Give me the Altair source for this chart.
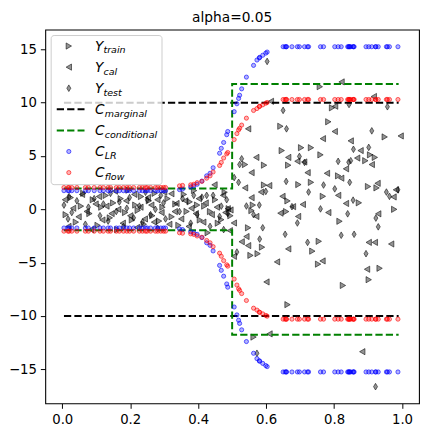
import altair as alt
import pandas as pd

TITLE = "alpha=0.05"

# ---------------- data ----------------
train_x = [
    0.010, 0.025, 0.040, 0.055, 0.062, 0.080, 0.090, 0.104, 0.115, 0.128,
    0.140, 0.150, 0.162, 0.172, 0.185, 0.195, 0.205, 0.215, 0.222, 0.232,
    0.240, 0.255, 0.265, 0.272, 0.285, 0.295, 0.310, 0.322, 0.333, 0.342,
    0.358, 0.366, 0.375, 0.388, 0.397, 0.405, 0.418, 0.428, 0.435, 0.450,
    0.458, 0.468, 0.478, 0.490, 0.495,
    0.538, 0.547, 0.554, 0.557, 0.561, 0.563, 0.575, 0.588, 0.594, 0.594,
    0.642, 0.646, 0.659, 0.663, 0.663, 0.665, 0.695, 0.703, 0.732, 0.732,
    0.736, 0.753, 0.755, 0.758, 0.760, 0.767, 0.783, 0.794, 0.812, 0.816,
    0.826, 0.873, 0.892, 0.900, 0.902, 0.906, 0.920, 0.925, 0.934, 0.949,
    0.977,
]
train_y = [
    -0.50, 1.10, -1.20, 0.30, 1.50, -0.40, 0.90, -1.50, 0.20, 1.30,
    -0.80, 0.60, -1.90, 1.00, -0.30, 1.80, -1.00, 0.40, -0.10, 1.20,
    -1.40, 0.80, -0.60, 1.50, -1.10, 0.20, 1.00, -0.70, 0.50, -1.50,
    1.40, -0.20, 0.70, 1.76, 0.40, -1.00, 0.30, -2.20, -0.21, 0.90,
    -1.30, -0.97, 1.60, 0.06, -0.60,
    4.20, -1.73, -4.32, -0.12, 0.40, -11.98, -4.16, -3.55, 4.14, 2.28,
    7.79, 5.51, -0.21, 0.79, -8.94, 4.14, 2.32, 5.78, 5.78, 2.53,
    -3.92, -5.14, -3.00, 11.50, 5.11, 1.22, 8.21, 9.52, 3.14, -1.12,
    -7.14, 0.61, 4.56, 2.14, -6.60, 5.11, 4.87, 2.01, -5.53, 6.79,
    0.00,
]

cal_x = [
    0.008, 0.018, 0.032, 0.048, 0.058, 0.072, 0.085, 0.098, 0.108, 0.118,
    0.130, 0.145, 0.155, 0.165, 0.178, 0.188, 0.200, 0.212, 0.220, 0.230,
    0.243, 0.252, 0.262, 0.270, 0.280, 0.292, 0.300, 0.315, 0.321, 0.331,
    0.336, 0.350, 0.362, 0.372, 0.380, 0.393, 0.402, 0.415, 0.422, 0.440,
    0.448, 0.455, 0.473, 0.480, 0.487, 0.493,
    0.495, 0.505, 0.505, 0.528, 0.538, 0.542, 0.547, 0.547, 0.557, 0.557,
    0.571, 0.571, 0.585, 0.601, 0.609, 0.610, 0.614, 0.632, 0.642, 0.648,
    0.665, 0.665, 0.679, 0.692, 0.694, 0.708, 0.712, 0.722, 0.766, 0.767,
    0.779, 0.783, 0.802, 0.803, 0.812, 0.821, 0.822, 0.835, 0.835, 0.849,
    0.868, 0.878, 0.883, 0.897, 0.902, 0.911, 0.917, 0.920, 0.928, 0.930,
    0.968, 0.975, 0.982, 0.996,
]
cal_y = [
    0.90, -1.60, 0.10, -0.70, 1.40, -0.20, -1.90, 0.50, 1.20, -1.00,
    0.30, -0.40, 1.70, 0.00, -1.30, 0.80, -0.60, 1.40, -1.70, 0.20,
    -0.90, 1.10, 0.40, -1.20, 0.90, -0.30, 1.60, -1.40, 1.46, -0.21,
    0.55, -0.90, 0.80, -1.60, 0.10, -0.40, 1.00, -1.20, 0.60, -0.50,
    2.30, 0.20, 1.31, -0.30, 0.06, -2.00,
    -0.06, -1.28, -4.41, -3.04, 2.01, -2.55, 7.55, -3.40, 3.44, 1.09,
    4.87, -0.67, 1.62, -6.81, 2.23, -11.68, 10.13, -4.93, -0.36, 1.22,
    4.87, -3.71, 0.25, 4.51, -0.67, 0.46, 4.44, 3.44, -4.84, 6.63,
    3.38, -0.30, 7.30, 9.67, 1.31, 2.92, 11.95, 3.80, 0.55, 6.42,
    4.81, 5.51, -13.35, -5.62, -3.10, 4.20, 10.58, -3.10, 2.44, -0.42,
    -3.25, 1.16, 1.83, 6.88,
]

test_x = [
    0.005, 0.017, 0.020, 0.028, 0.043, 0.068, 0.077, 0.094, 0.111, 0.121,
    0.135, 0.142, 0.159, 0.168, 0.180, 0.190, 0.198, 0.210, 0.227, 0.236,
    0.245, 0.250, 0.260, 0.274, 0.281, 0.290, 0.298, 0.304, 0.345, 0.354,
    0.378, 0.387, 0.397, 0.411, 0.425, 0.435, 0.444, 0.463, 0.468, 0.475,
    0.484, 0.487,
    0.506, 0.514, 0.519, 0.522, 0.528, 0.542, 0.563, 0.573,
    0.580, 0.581, 0.590, 0.599, 0.603, 0.650, 0.656, 0.659, 0.660, 0.676,
    0.692, 0.698, 0.713, 0.722, 0.725, 0.760, 0.769, 0.802, 0.812, 0.821,
    0.840, 0.843, 0.844, 0.846, 0.849, 0.856, 0.857, 0.859, 0.894, 0.902,
    0.911, 0.922, 0.923, 0.930, 0.954, 0.957, 0.963, 0.988,
]
test_y = [
    0.40, -0.90, 1.20, -0.30, 0.80, -1.40, 0.20, 1.00, -0.60, 0.50,
    -1.10, 1.50, -0.20, 0.70, -1.60, 0.10, 1.10, -0.80, 0.30, -1.20,
    1.60, 0.90, -0.50, 0.00, -1.80, 1.30, 0.60, -0.90, -0.21, 1.00,
    -1.30, 1.31, -0.50, 1.14, 1.31, -1.60, 1.31, -0.67, 0.30, -1.90,
    0.90, -0.40,
    2.98, -4.01, 2.53, 4.20, 4.74, 0.31, -0.50, -13.50,
    0.40, -2.79, -1.73, 1.68, 13.87, 9.28, -2.34, 2.62, 7.55, 0.25,
    -1.28, 4.96, 4.40, -3.10, 1.62, 0.04, 2.28, 1.92, 4.50, -2.43,
    -0.42, 4.42, 9.83, 2.53, 4.56, 0.86, 5.63, -2.34, -4.16, 5.81,
    7.36, -16.63, -0.82, -1.64, 1.62, 9.62, 1.22, 1.83,
]

# upper bounds of the two learned intervals at each test x (intervals are symmetric)
lr_upper = [
    1.75, 1.75, 1.75, 1.75, 1.75, 1.75, 1.75, 1.75, 1.75, 1.75,
    1.75, 1.75, 1.75, 1.75, 1.75, 1.75, 1.75, 1.75, 1.75, 1.75,
    1.75, 1.75, 1.75, 1.75, 1.75, 1.75, 1.75, 1.75, 1.85, 1.90,
    2.10, 2.20, 2.35, 2.65, 3.14, 3.38, 3.90, 5.26, 5.72, 6.27,
    7.00, 7.30,
    9.16, 9.90, 10.40, 10.70, 11.30, 12.40, 13.50, 14.00,
    14.20, 14.25, 14.45, 14.65, 14.75, 15.25, 15.25, 15.25, 15.25, 15.25,
    15.25, 15.25, 15.25, 15.25, 15.25, 15.25, 15.25, 15.25, 15.25, 15.25,
    15.25, 15.25, 15.25, 15.25, 15.25, 15.25, 15.25, 15.25, 15.25, 15.25,
    15.25, 15.25, 15.25, 15.25, 15.25, 15.25, 15.25, 15.25,
]
flow_upper = [
    2.05, 2.05, 2.05, 2.05, 2.05, 2.05, 2.05, 2.05, 2.05, 2.05,
    2.05, 2.05, 2.05, 2.05, 2.05, 2.05, 2.05, 2.05, 2.05, 2.05,
    2.05, 2.05, 2.05, 2.05, 2.05, 2.05, 2.05, 2.05, 2.20, 2.24,
    2.30, 2.35, 2.50, 2.62, 2.92, 3.14, 3.50, 4.11, 4.40, 4.81,
    5.20, 5.33,
    6.54, 7.10, 7.45, 7.60, 7.90, 8.55, 9.27, 9.45,
    9.64, 9.66, 9.80, 9.95, 10.02, 10.30, 10.30, 10.30, 10.30, 10.30,
    10.30, 10.30, 10.30, 10.30, 10.30, 10.30, 10.30, 10.30, 10.30, 10.30,
    10.30, 10.30, 10.30, 10.30, 10.30, 10.30, 10.30, 10.30, 10.30, 10.30,
    10.30, 10.30, 10.30, 10.30, 10.30, 10.30, 10.30, 10.30,
]

marginal_x = [0.005, 0.99]
marginal_level = 10.0
cond_x = [0.005, 0.5, 0.5, 0.99]
cond_upper = [1.96, 1.96, 11.76, 11.76]

x_ticks = [0.0, 0.2, 0.4, 0.6, 0.8, 1.0]
y_ticks = [-15, -10, -5, 0, 5, 10, 15]
legend_main = ["Y", "Y", "Y", "C", "C", "C", "C"]
legend_sub = ["train", "cal", "test", "marginal", "conditional", "LR", "flow"]

# ---------------- layout / style ----------------
W, H = 381, 381
FONT = "DejaVu Sans"
THIN_DIAMOND = "M0,-1L0.6,0L0,1L-0.6,0Z"
DASH = [7.4, 3.2]

xs = alt.Scale(domain=[-0.05, 1.05], nice=False, zero=False)
ys = alt.Scale(domain=[-18.2, 16.85], nice=False, zero=False)
x_axis = alt.Axis(values=x_ticks, format=".1f", title=None, labelPadding=4.5)
y_axis = alt.Axis(values=y_ticks, format="d", title=None, labelPadding=4)


def X(field="x"):
    return alt.X(f"{field}:Q", scale=xs, axis=x_axis)


def Y(field="y"):
    return alt.Y(f"{field}:Q", scale=ys, axis=y_axis)


gray = dict(filled=True, fill="black", fillOpacity=0.42, stroke="black",
            strokeOpacity=0.55, strokeWidth=1, opacity=1)


def circ(color):
    return dict(shape="circle", filled=True, fill=color, fillOpacity=0.3,
                stroke=color, strokeOpacity=0.6, strokeWidth=1, opacity=1, size=18)


TRI_SIZE = 40
DIA_SIZE = 46

df_train = pd.DataFrame({"x": train_x, "y": train_y})
df_cal = pd.DataFrame({"x": cal_x, "y": cal_y})
df_test = pd.DataFrame({"x": test_x, "y": test_y})
df_lr = pd.DataFrame({"x": test_x + test_x,
                      "y": lr_upper + [-v for v in lr_upper]})
df_flow = pd.DataFrame({"x": test_x + test_x,
                        "y": flow_upper + [-v for v in flow_upper]})
df_marg = pd.DataFrame({
    "x": marginal_x + marginal_x,
    "y": [marginal_level] * len(marginal_x) + [-marginal_level] * len(marginal_x),
    "side": ["hi"] * len(marginal_x) + ["lo"] * len(marginal_x),
    "i": list(range(len(marginal_x))) * 2,
})
df_cond = pd.DataFrame({
    "x": cond_x + cond_x,
    "y": cond_upper + [-v for v in cond_upper],
    "side": ["hi"] * len(cond_x) + ["lo"] * len(cond_x),
    "i": list(range(len(cond_x))) * 2,
})

train = alt.Chart(df_train).mark_point(shape="triangle-right", size=TRI_SIZE, **gray).encode(x=X(), y=Y())
cal = alt.Chart(df_cal).mark_point(shape="triangle-left", size=TRI_SIZE, **gray).encode(x=X(), y=Y())
test = alt.Chart(df_test).mark_point(shape=THIN_DIAMOND, size=DIA_SIZE, **gray).encode(x=X(), y=Y())
marg = alt.Chart(df_marg).mark_line(color="black", strokeWidth=2, strokeDash=DASH).encode(
    x=X(), y=Y(), detail="side:N", order="i:Q")
cond = alt.Chart(df_cond).mark_line(color="#008000", strokeWidth=2, strokeDash=DASH).encode(
    x=X(), y=Y(), detail="side:N", order="i:Q")
lr = alt.Chart(df_lr).mark_point(**circ("#0000ff")).encode(x=X(), y=Y())
flow = alt.Chart(df_flow).mark_point(**circ("#ff0000")).encode(x=X(), y=Y())

# ---------------- legend (drawn in pixel space of the plot) ----------------
one = pd.DataFrame({"k": [0]})
legend_layers = [
    alt.Chart(one).mark_rect(fill="white", fillOpacity=0.8, stroke="#cccccc",
                             strokeWidth=1, cornerRadius=3).encode(
        x=alt.value(6), x2=alt.value(119), y=alt.value(6), y2=alt.value(158))
]
row_styles = [
    ("point", dict(shape="triangle-right", size=TRI_SIZE, **gray)),
    ("point", dict(shape="triangle-left", size=TRI_SIZE, **gray)),
    ("point", dict(shape=THIN_DIAMOND, size=DIA_SIZE, **gray)),
    ("line", "black"),
    ("line", "#008000"),
    ("point", circ("#0000ff")),
    ("point", circ("#ff0000")),
]
for i, (main, sub) in enumerate(zip(legend_main, legend_sub)):
    cy = 16.7 + 21.5 * i
    kind, style = row_styles[i]
    if kind == "point":
        legend_layers.append(alt.Chart(one).mark_point(**style).encode(
            x=alt.value(24), y=alt.value(cy)))
    else:
        legend_layers.append(alt.Chart(one).mark_rule(
            color=style, strokeWidth=2, strokeDash=DASH).encode(
            x=alt.value(11.7), x2=alt.value(40), y=alt.value(cy)))
    legend_layers.append(alt.Chart(one).mark_text(
        text=main, font=FONT, fontStyle="italic", fontSize=13.9, align="left",
        baseline="alphabetic", color="black").encode(
        x=alt.value(50.7), y=alt.value(cy + 5)))
    legend_layers.append(alt.Chart(one).mark_text(
        text=sub, font=FONT, fontStyle="italic", fontSize=9.7, align="left",
        baseline="alphabetic", color="black").encode(
        x=alt.value(59.3 if main == "Y" else 60.6), y=alt.value(cy + 7.6)))

title = alt.Chart(one).mark_text(
    text=TITLE, font=FONT, fontSize=14, align="center", baseline="alphabetic",
    color="black").encode(x=alt.value(W / 2), y=alt.value(-7.4))

chart = alt.layer(
    train, cal, test, marg, cond, lr, flow, *legend_layers, title
).properties(
    width=W, height=H,
    padding={"left": 38, "top": 18, "right": 1, "bottom": 21},
    autosize=alt.AutoSizeParams(type="none"),
).configure_view(
    stroke="black", strokeWidth=1.1
).configure_axis(
    grid=False, domain=False, tickColor="black", tickSize=5, tickWidth=1,
    labelFont=FONT, labelFontSize=13.5, labelColor="black",
)

chart.save("out.html", embed_options={"renderer": "svg", "actions": False})
